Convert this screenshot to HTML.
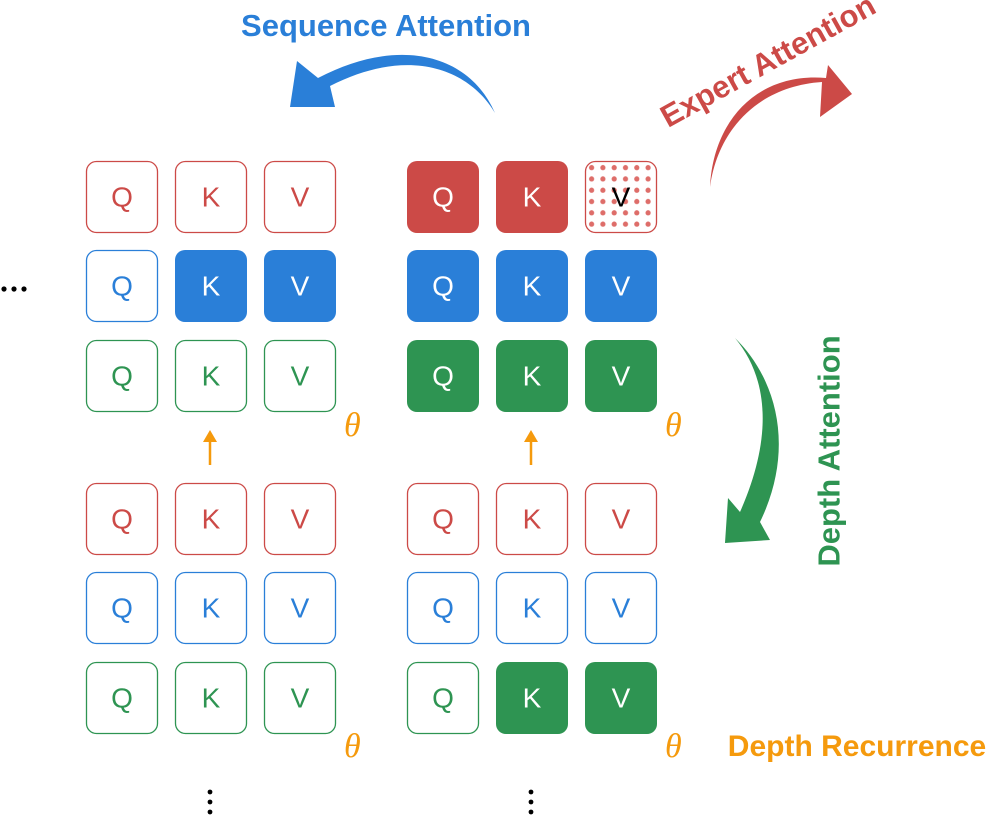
<!DOCTYPE html>
<html><head><meta charset="utf-8"><style>
body{margin:0;background:#fff;}
svg{display:block}
.t{font-family:"Liberation Sans",sans-serif;font-size:28px;text-anchor:middle;dominant-baseline:central}
.b{font-family:"Liberation Sans",sans-serif;font-weight:bold}
</style></head><body>
<svg width="996" height="817" viewBox="0 0 996 817" xmlns="http://www.w3.org/2000/svg">
<defs>
<pattern id="dots" x="586" y="162" width="11.3" height="11.3" patternUnits="userSpaceOnUse">
<circle cx="5.6" cy="5.6" r="2.6" fill="#d9534f" opacity="0.85"/>
</pattern>
</defs>
<g id="boxes">
<rect x="86.5" y="161.5" width="71" height="71" rx="10" fill="#fff" stroke="#cc4a47" stroke-width="1.3"/><text class="t" x="122" y="197" fill="#cc4a47">Q</text>
<rect x="175.5" y="161.5" width="71" height="71" rx="10" fill="#fff" stroke="#cc4a47" stroke-width="1.3"/><text class="t" x="211" y="197" fill="#cc4a47">K</text>
<rect x="264.5" y="161.5" width="71" height="71" rx="10" fill="#fff" stroke="#cc4a47" stroke-width="1.3"/><text class="t" x="300" y="197" fill="#cc4a47">V</text>
<rect x="86.5" y="250.5" width="71" height="71" rx="10" fill="#fff" stroke="#2a7fd8" stroke-width="1.3"/><text class="t" x="122" y="286" fill="#2a7fd8">Q</text>
<rect x="175" y="250" width="72" height="72" rx="10" fill="#2a7fd8"/><text class="t" x="211" y="286" fill="#fff">K</text>
<rect x="264" y="250" width="72" height="72" rx="10" fill="#2a7fd8"/><text class="t" x="300" y="286" fill="#fff">V</text>
<rect x="86.5" y="340.5" width="71" height="71" rx="10" fill="#fff" stroke="#2e9452" stroke-width="1.3"/><text class="t" x="122" y="376" fill="#2e9452">Q</text>
<rect x="175.5" y="340.5" width="71" height="71" rx="10" fill="#fff" stroke="#2e9452" stroke-width="1.3"/><text class="t" x="211" y="376" fill="#2e9452">K</text>
<rect x="264.5" y="340.5" width="71" height="71" rx="10" fill="#fff" stroke="#2e9452" stroke-width="1.3"/><text class="t" x="300" y="376" fill="#2e9452">V</text>
<rect x="407" y="161" width="72" height="72" rx="10" fill="#cc4a47"/><text class="t" x="443" y="197" fill="#fff">Q</text>
<rect x="496" y="161" width="72" height="72" rx="10" fill="#cc4a47"/><text class="t" x="532" y="197" fill="#fff">K</text>
<rect x="585.5" y="161.5" width="71" height="71" rx="10" fill="url(#dots)" stroke="#cc4a47" stroke-width="1.3"/><text class="t" x="621" y="197" fill="#000">V</text>
<rect x="407" y="250" width="72" height="72" rx="10" fill="#2a7fd8"/><text class="t" x="443" y="286" fill="#fff">Q</text>
<rect x="496" y="250" width="72" height="72" rx="10" fill="#2a7fd8"/><text class="t" x="532" y="286" fill="#fff">K</text>
<rect x="585" y="250" width="72" height="72" rx="10" fill="#2a7fd8"/><text class="t" x="621" y="286" fill="#fff">V</text>
<rect x="407" y="340" width="72" height="72" rx="10" fill="#2e9452"/><text class="t" x="443" y="376" fill="#fff">Q</text>
<rect x="496" y="340" width="72" height="72" rx="10" fill="#2e9452"/><text class="t" x="532" y="376" fill="#fff">K</text>
<rect x="585" y="340" width="72" height="72" rx="10" fill="#2e9452"/><text class="t" x="621" y="376" fill="#fff">V</text>
<rect x="86.5" y="483.5" width="71" height="71" rx="10" fill="#fff" stroke="#cc4a47" stroke-width="1.3"/><text class="t" x="122" y="519" fill="#cc4a47">Q</text>
<rect x="175.5" y="483.5" width="71" height="71" rx="10" fill="#fff" stroke="#cc4a47" stroke-width="1.3"/><text class="t" x="211" y="519" fill="#cc4a47">K</text>
<rect x="264.5" y="483.5" width="71" height="71" rx="10" fill="#fff" stroke="#cc4a47" stroke-width="1.3"/><text class="t" x="300" y="519" fill="#cc4a47">V</text>
<rect x="86.5" y="572.5" width="71" height="71" rx="10" fill="#fff" stroke="#2a7fd8" stroke-width="1.3"/><text class="t" x="122" y="608" fill="#2a7fd8">Q</text>
<rect x="175.5" y="572.5" width="71" height="71" rx="10" fill="#fff" stroke="#2a7fd8" stroke-width="1.3"/><text class="t" x="211" y="608" fill="#2a7fd8">K</text>
<rect x="264.5" y="572.5" width="71" height="71" rx="10" fill="#fff" stroke="#2a7fd8" stroke-width="1.3"/><text class="t" x="300" y="608" fill="#2a7fd8">V</text>
<rect x="86.5" y="662.5" width="71" height="71" rx="10" fill="#fff" stroke="#2e9452" stroke-width="1.3"/><text class="t" x="122" y="698" fill="#2e9452">Q</text>
<rect x="175.5" y="662.5" width="71" height="71" rx="10" fill="#fff" stroke="#2e9452" stroke-width="1.3"/><text class="t" x="211" y="698" fill="#2e9452">K</text>
<rect x="264.5" y="662.5" width="71" height="71" rx="10" fill="#fff" stroke="#2e9452" stroke-width="1.3"/><text class="t" x="300" y="698" fill="#2e9452">V</text>
<rect x="407.5" y="483.5" width="71" height="71" rx="10" fill="#fff" stroke="#cc4a47" stroke-width="1.3"/><text class="t" x="443" y="519" fill="#cc4a47">Q</text>
<rect x="496.5" y="483.5" width="71" height="71" rx="10" fill="#fff" stroke="#cc4a47" stroke-width="1.3"/><text class="t" x="532" y="519" fill="#cc4a47">K</text>
<rect x="585.5" y="483.5" width="71" height="71" rx="10" fill="#fff" stroke="#cc4a47" stroke-width="1.3"/><text class="t" x="621" y="519" fill="#cc4a47">V</text>
<rect x="407.5" y="572.5" width="71" height="71" rx="10" fill="#fff" stroke="#2a7fd8" stroke-width="1.3"/><text class="t" x="443" y="608" fill="#2a7fd8">Q</text>
<rect x="496.5" y="572.5" width="71" height="71" rx="10" fill="#fff" stroke="#2a7fd8" stroke-width="1.3"/><text class="t" x="532" y="608" fill="#2a7fd8">K</text>
<rect x="585.5" y="572.5" width="71" height="71" rx="10" fill="#fff" stroke="#2a7fd8" stroke-width="1.3"/><text class="t" x="621" y="608" fill="#2a7fd8">V</text>
<rect x="407.5" y="662.5" width="71" height="71" rx="10" fill="#fff" stroke="#2e9452" stroke-width="1.3"/><text class="t" x="443" y="698" fill="#2e9452">Q</text>
<rect x="496" y="662" width="72" height="72" rx="10" fill="#2e9452"/><text class="t" x="532" y="698" fill="#fff">K</text>
<rect x="585" y="662" width="72" height="72" rx="10" fill="#2e9452"/><text class="t" x="621" y="698" fill="#fff">V</text>
</g>
<g font-family="Liberation Serif,serif" font-style="italic" font-size="34" fill="#f59a0d">
<text x="344" y="436">θ</text><text x="665" y="436">θ</text>
<text x="344" y="757">θ</text><text x="665" y="757">θ</text>
</g>
<g stroke="#f59a0d" stroke-width="2.5" fill="#f59a0d">
<line x1="210" y1="465" x2="210" y2="440"/><polygon points="203,442 210,430 217,442" stroke="none"/>
<line x1="531" y1="465" x2="531" y2="440"/><polygon points="524,442 531,430 538,442" stroke="none"/>
</g>
<g fill="#000">
<circle cx="4" cy="289" r="2.6"/><circle cx="14" cy="289" r="2.6"/><circle cx="24" cy="289" r="2.6"/>
<circle cx="210" cy="792" r="2.4"/><circle cx="210" cy="802" r="2.4"/><circle cx="210" cy="812" r="2.4"/>
<circle cx="531" cy="792" r="2.4"/><circle cx="531" cy="802" r="2.4"/><circle cx="531" cy="812" r="2.4"/>
</g>
<path d="M495,113 C470,70 410,45 330,86 L335,107 L290,107 L297,61 L318,78 C400,35 470,55 495,113 Z" fill="#2a7fd8"/>
<path d="M710,187 C718,128 760,86 822,82 L820,117 L852,94 L828,65 L826,78 C756,72 713,122 710,187 Z" fill="#cc4a47"/>
<path d="M735,338 C778,380 795,450 760,522 L770,540 L725,543 L728,498 L740,512 C772,440 770,380 735,338 Z" fill="#2e9452"/>
<text class="b" x="386" y="36" font-size="31" fill="#2a7fd8" text-anchor="middle">Sequence Attention</text>
<text class="b" x="773" y="70" font-size="31" fill="#cc4a47" text-anchor="middle" transform="rotate(-29 773 70)">Expert Attention</text>
<text class="b" x="829" y="451" font-size="31" fill="#2e9452" text-anchor="middle" dominant-baseline="central" transform="rotate(-90 829 451)">Depth Attention</text>
<text class="b" x="857" y="756" font-size="30" fill="#f59a0d" text-anchor="middle">Depth Recurrence</text>
</svg>
</body></html>
